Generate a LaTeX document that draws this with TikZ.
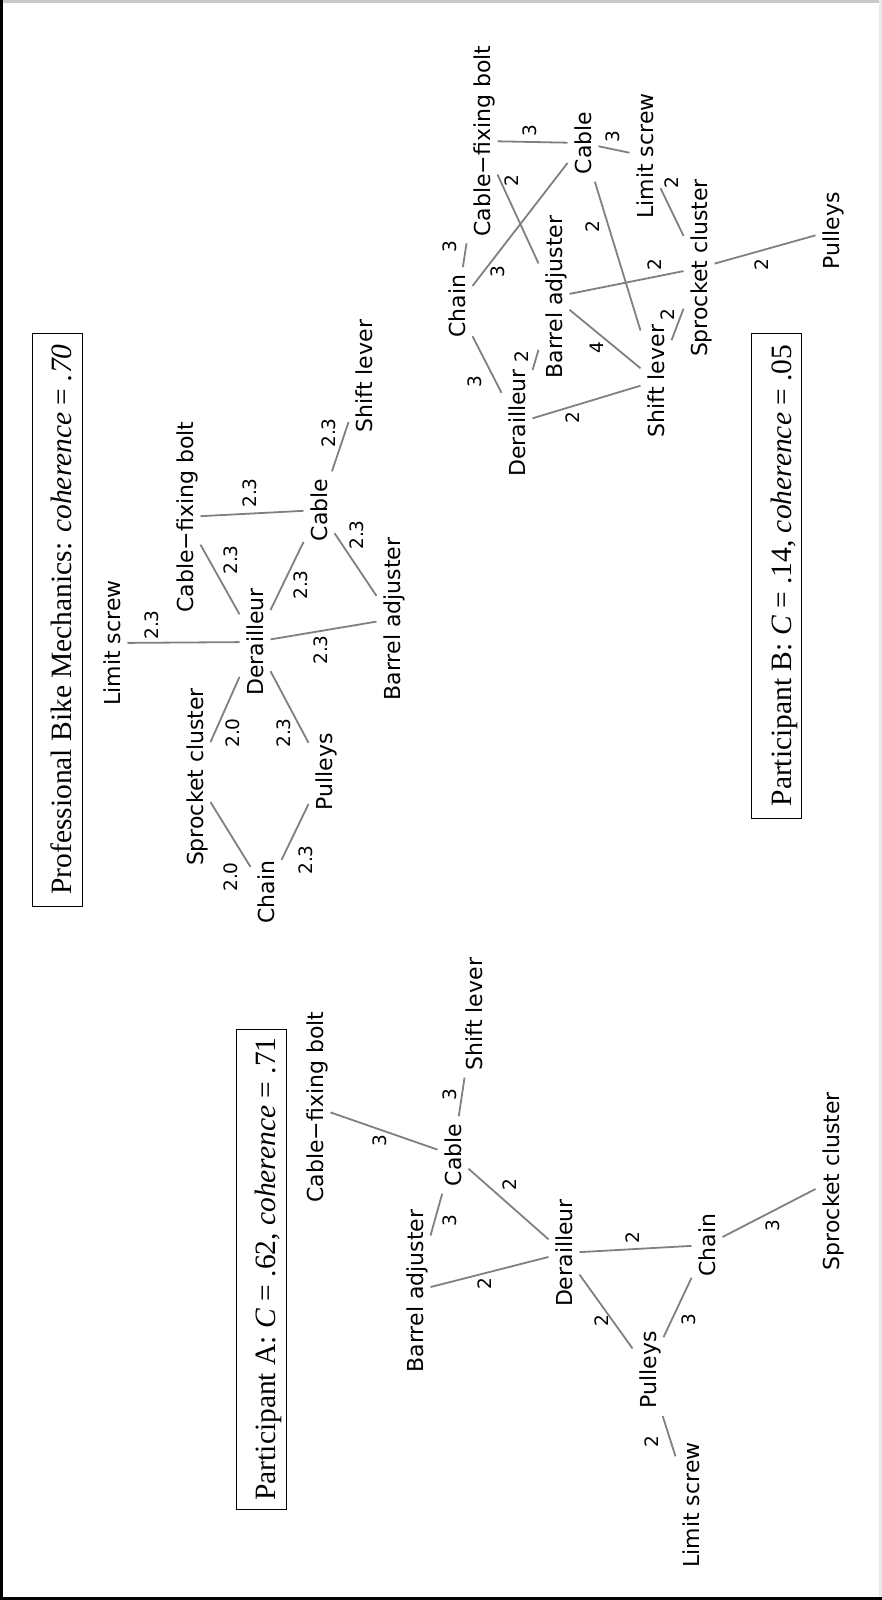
\documentclass[tikz,border=0pt]{standalone}
\usepackage{fontspec}
\setmainfont{Liberation Serif}
\newfontfamily\labfont{DejaVu Sans}
\definecolor{edgegray}{RGB}{128,128,128}
\definecolor{topgray}{RGB}{200,200,200}
\definecolor{rightgray}{RGB}{235,235,235}
\begin{document}
\begin{tikzpicture}[x=1pt,y=-1pt,
  nd/.style={font=\labfont\fontsize{22}{24}\selectfont, rotate=90, inner sep=0pt,
    text height=16pt, text depth=0pt, outer sep=7.5pt},
  wt/.style={font=\labfont\fontsize{18.5}{20}\selectfont, rotate=90, inner sep=0pt},
  ttl/.style={font=\fontsize{29.5}{32}\selectfont, rotate=90, draw=black, line width=1pt,
    inner sep=0pt, text height=39.5pt, text depth=10.5pt},
  edge/.style={draw=edgegray, line width=1.8pt}
]
\useasboundingbox (0,0) rectangle (882,1600);
\fill[white] (0,0) rectangle (882,1600);
\draw[topgray, line width=3pt] (0,1.5) -- (882,1.5);
\draw[rightgray, line width=3pt] (880.5,0) -- (880.5,1600);
\draw[black, line width=2.5pt] (1.25,0) -- (1.25,1600);
\draw[black, line width=3pt] (0,1598.5) -- (882,1598.5);

% ---------- titles ----------
\node[ttl, minimum width=573pt] (tP) at (57,619.5) {Professional Bike Mechanics: \textit{coherence} = \textit{.70}};
\node[ttl, minimum width=485pt] (tB) at (776.5,575.5) {Participant B: \textit{C} = .14, \textit{coherence} = .05};
\node[ttl, minimum width=480pt] (tA) at (261,1269) {Participant A: \textit{C} = .62, \textit{coherence} = .71};

% ---------- Professional Bike Mechanics ----------
\node[nd] (pLS)  at (112,643) {Limit screw};
\node[nd] (pCFB) at (185,517) {Cable−fixing bolt};
\node[nd] (pSC)  at (195,777) {Sprocket cluster};
\node[nd] (pDer) at (255,642) {Derailleur};
\node[nd] (pCab) at (319,510) {Cable};
\node[nd] (pSL)  at (364,376) {Shift lever};
\node[nd] (pBA)  at (392,619) {Barrel adjuster};
\node[nd] (pPul) at (324,772) {Pulleys};
\node[nd] (pCh)  at (266,892) {Chain};

\draw[edge] (pLS) -- (pDer);
\draw[edge] (pCFB) -- (pDer);
\draw[edge] (pCFB) -- (pCab);
\draw[edge] (pDer) -- (pCab);
\draw[edge] (pCab) -- (pBA);
\draw[edge] (pCab) -- (pSL);
\draw[edge] (pDer) -- (pBA);
\draw[edge] (pDer) -- (pSC);
\draw[edge] (pDer) -- (pPul);
\draw[edge] (pSC) -- (pCh);
\draw[edge] (pPul) -- (pCh);

\node[wt] (pw1)  at (152,625) {2.3};
\node[wt] (pw2)  at (231,560) {2.3};
\node[wt] (pw3)  at (250,493) {2.3};
\node[wt] (pw4)  at (301,585) {2.3};
\node[wt] (pw5)  at (357,535) {2.3};
\node[wt] (pw6)  at (329,433) {2.3};
\node[wt] (pw7)  at (321,650) {2.3};
\node[wt] (pw8)  at (233,733) {2.0};
\node[wt] (pw9)  at (284,733) {2.3};
\node[wt] (pw10) at (231,877) {2.0};
\node[wt] (pw11) at (306,860) {2.3};

% ---------- Participant B ----------
\node[nd] (bCFB) at (482,141) {Cable−fixing bolt};
\node[nd] (bCab) at (583,143) {Cable};
\node[nd] (bLS)  at (645,156) {Limit screw};
\node[nd] (bCh)  at (457,306) {Chain};
\node[nd] (bBA)  at (554,297) {Barrel adjuster};
\node[nd] (bSC)  at (699,268) {Sprocket cluster};
\node[nd] (bPul) at (831,231) {Pulleys};
\node[nd] (bDer) at (517,423) {Derailleur};
\node[nd] (bSL)  at (656,381) {Shift lever};

\draw[edge] (bCh) -- (bCFB);
\draw[edge] (bCFB) -- (bCab);
\draw[edge] (bCab) -- (bLS);
\draw[edge] (bCFB) -- (bBA);
\draw[edge] (bCh) -- (bCab);
\draw[edge] (bCab) -- (bSL);
\draw[edge] (bLS) -- (bSC);
\draw[edge] (bBA) -- (bSC);
\draw[edge] (bSC) -- (bPul);
\draw[edge] (bCh) -- (bDer);
\draw[edge] (bDer) -- (bBA);
\draw[edge] (bBA) -- (bSL);
\draw[edge] (bDer) -- (bSL);
\draw[edge] (bSL) -- (bSC);

\node[wt] (bw1)  at (450,247) {3};
\node[wt] (bw2)  at (530,131) {3};
\node[wt] (bw3)  at (613,137) {3};
\node[wt] (bw4)  at (512,181) {2};
\node[wt] (bw5)  at (498,272) {3};
\node[wt] (bw6)  at (593,227) {2};
\node[wt] (bw7)  at (672,183) {2};
\node[wt] (bw8)  at (655,265) {2};
\node[wt] (bw9)  at (762,265) {2};
\node[wt] (bw10) at (475,382) {3};
\node[wt] (bw11) at (522,357) {2};
\node[wt] (bw12) at (597,348) {4};
\node[wt] (bw13) at (573,418) {2};
\node[wt] (bw14) at (668,315) {2};

% ---------- Participant A ----------
\node[nd] (aCFB) at (315,1107) {Cable−fixing bolt};
\node[nd] (aSL)  at (474,1014) {Shift lever};
\node[nd] (aCab) at (453,1155) {Cable};
\node[nd] (aBA)  at (415,1291) {Barrel adjuster};
\node[nd] (aDer) at (564,1253) {Derailleur};
\node[nd] (aCh)  at (707,1245) {Chain};
\node[nd] (aSC)  at (831,1181) {Sprocket cluster};
\node[nd] (aPul) at (648,1370) {Pulleys};
\node[nd] (aLS)  at (691,1505) {Limit screw};

\draw[edge] (aCFB) -- (aCab);
\draw[edge] (aCab) -- (aSL);
\draw[edge] (aCab) -- (aBA);
\draw[edge] (aCab) -- (aDer);
\draw[edge] (aBA) -- (aDer);
\draw[edge] (aDer) -- (aCh);
\draw[edge] (aDer) -- (aPul);
\draw[edge] (aCh) -- (aPul);
\draw[edge] (aCh) -- (aSC);
\draw[edge] (aPul) -- (aLS);

\node[wt] (aw1)  at (380,1141) {3};
\node[wt] (aw2)  at (450,1095) {3};
\node[wt] (aw3)  at (450,1221) {3};
\node[wt] (aw4)  at (510,1185) {2};
\node[wt] (aw5)  at (485,1284) {2};
\node[wt] (aw6)  at (633,1238) {2};
\node[wt] (aw7)  at (602,1321) {2};
\node[wt] (aw8)  at (689,1320) {3};
\node[wt] (aw9)  at (773,1226) {3};
\node[wt] (aw10) at (652,1442) {2};
\end{tikzpicture}
\end{document}
